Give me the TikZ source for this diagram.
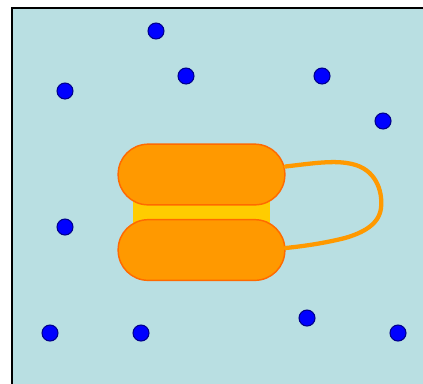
\documentclass[tikz,border=0pt]{standalone}
\usepackage{tikz}
\usetikzlibrary{calc}
\definecolor{Water}{HTML}{B9DFE2}
\definecolor{Peel}{HTML}{FF9900}
\definecolor{Rim}{HTML}{FF6A00}
\definecolor{Core}{HTML}{FFCC00}
\definecolor{Dot}{HTML}{0000FF}
\definecolor{DotRim}{HTML}{00008B}
\tikzset{
  pill/.style={draw=Rim,line width=1.1pt,fill=Peel,rounded corners=22.5pt,minimum width=125pt,minimum height=45.5pt,inner sep=0pt},
  bead/.style={circle,draw=DotRim,line width=0.8pt,fill=Dot,minimum size=12pt,inner sep=0pt},
  tail/.style={draw=Peel,line width=3.2pt,line cap=round},
}
\begin{document}
\begin{tikzpicture}[x=0.75pt,y=-0.75pt]
\useasboundingbox (0,0) rectangle (423,383);
% water tank
\draw[fill=Water,line width=1.5pt] (12,8) rectangle (440,400);
% beads
\foreach \n/\px/\py in {a/156/31,b/65/91,c/186/76,d/322/76,e/383/121,f/65/227,g/50/333,h/141/333,i/307/318,j/398/333}
  \node[bead] (\n) at (\px,\py) {};
% core between the two pills
\node[fill=Core,minimum width=103pt,minimum height=56pt,inner sep=0pt] (core) at (201.5,212) {};
\node[pill] (top) at (201.5,174.5) {};
\node[pill] (bot) at (201.5,250) {};
% loop from top pill round to bottom pill
\draw[tail] ($(top.east)+(0,-8)$) .. controls (315,163) and (335,160) .. (352,164)
  .. controls (375,169) and (383,190) .. (381,208)
  .. controls (379,225) and (362,233) .. (345,238)
  .. controls (325,243) and (305,246) .. ($(bot.east)+(0,-2)$);
\end{tikzpicture}
\end{document}
